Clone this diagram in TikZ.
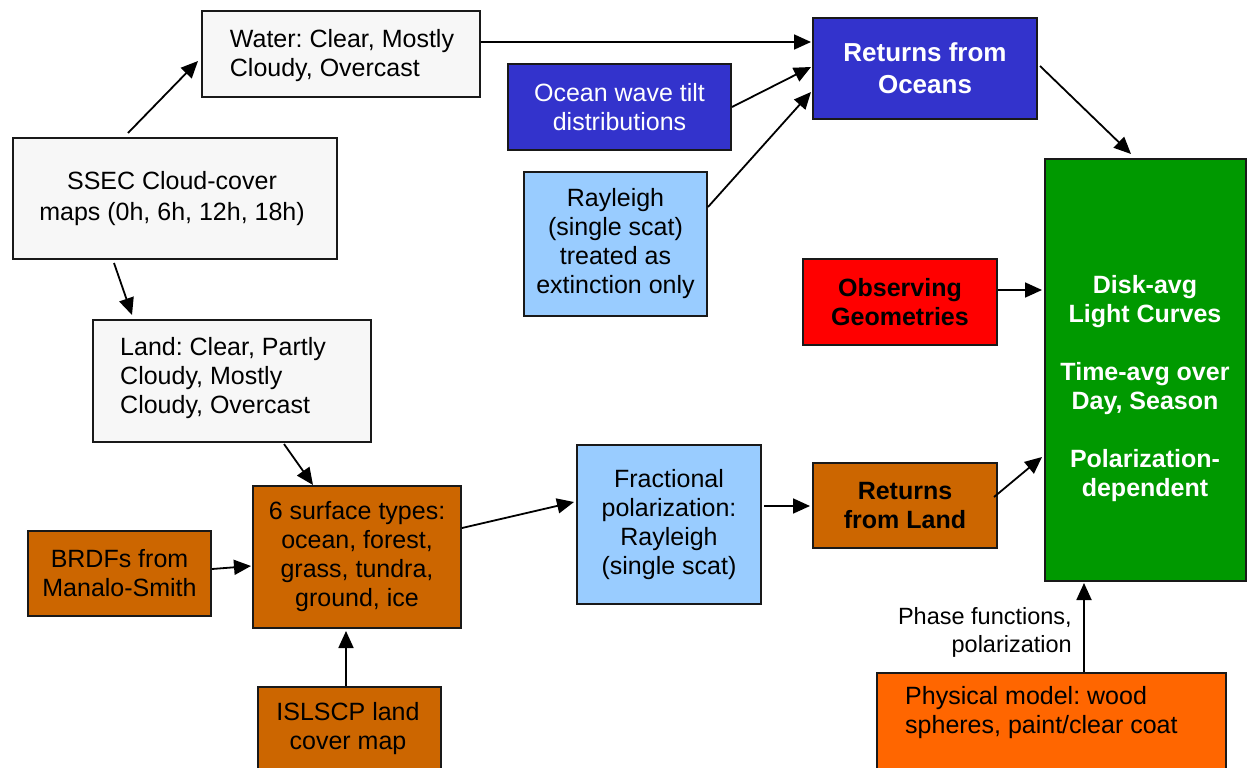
\documentclass[tikz,border=0pt]{standalone}
\usepackage{fontspec}
\setmainfont{Liberation Sans}
\usetikzlibrary{arrows.meta}
\definecolor{boxgray}{HTML}{F7F7F7}
\definecolor{dblue}{HTML}{3333CC}
\definecolor{lblue}{HTML}{99CCFF}
\definecolor{bred}{HTML}{FF0000}
\definecolor{bgreen}{HTML}{009900}
\definecolor{landbrown}{HTML}{CC6600}
\definecolor{orng}{HTML}{FF6600}
\frenchspacing
\begin{document}
\begin{tikzpicture}[x=1pt,y=-1pt,
  box/.style={draw=black!90, line width=2pt, inner sep=0pt, rectangle},
  reg/.style={font=\fontsize{25pt}{29pt}\selectfont},
  bld/.style={font=\fontsize{25pt}{29pt}\selectfont\bfseries},
  txt/.style={inner sep=0pt},
  arr/.style={line width=1.8pt, -{Triangle[length=17pt,width=15pt]}},
]
\useasboundingbox (0,0) rectangle (1248,768);
\fill[white] (0,0) rectangle (1248,768);
\clip (0,0) rectangle (1248,768);

% boxes
\node[box, fill=boxgray, minimum width=278pt, minimum height=86pt] (water) at (341,54) {};
\node[txt, reg, align=left] (watert) at (342,56) {Water: Clear, Mostly\\Cloudy, Overcast};
\node[box, fill=boxgray, minimum width=324pt, minimum height=121pt] (ssec) at (175,198.5) {};
\node[txt, reg, align=center, font=\fontsize{25pt}{31pt}\selectfont] (ssect) at (172,199) {SSEC Cloud-cover\\maps (0h, 6h, 12h, 18h)};
\node[box, fill=boxgray, minimum width=278pt, minimum height=122pt] (land) at (232,381) {};
\node[txt, reg, align=left, anchor=west] (landt) at (120,378) {Land: Clear, Partly\\Cloudy, Mostly\\Cloudy, Overcast};

\node[box, fill=dblue, text=white, minimum width=223pt, minimum height=86pt, align=center, reg] (wave) at (619.5,107) {Ocean wave tilt\\distributions};
\node[box, fill=dblue, text=white, minimum width=224pt, minimum height=101pt, align=center, font=\fontsize{26pt}{32pt}\selectfont\bfseries] (oceans) at (925,68.5) {Returns from\\Oceans};
\node[box, fill=lblue, minimum width=183pt, minimum height=144pt, align=center, reg] (rayl) at (615.5,244) {Rayleigh\\(single scat)\\treated as\\extinction only};
\node[box, fill=bred, minimum width=194pt, minimum height=86pt, align=center, bld] (obs) at (900,302) {Observing\\Geometries};

\node[box, fill=bgreen, minimum width=201pt, minimum height=422pt] (green) at (1145.5,370) {};
\node[txt, text=white, align=center, bld] (greent) at (1145,389) {Disk-avg\\Light Curves\\[29pt]Time-avg over\\Day, Season\\[29pt]Polarization-\\dependent};

\node[box, fill=landbrown, minimum width=208pt, minimum height=142pt, align=center, reg] (surf) at (357,557) {6 surface types:\\ocean, forest,\\grass, tundra,\\ground, ice};
\node[box, fill=landbrown, minimum width=183pt, minimum height=85pt, align=center, reg] (brdf) at (119.5,573.5) {BRDFs from\\Manalo-Smith};
\node[box, fill=lblue, minimum width=184pt, minimum height=159pt, align=center, reg] (frac) at (669,524.5) {Fractional\\polarization:\\Rayleigh\\(single scat)};
\node[box, fill=landbrown, minimum width=184pt, minimum height=85pt, align=center, bld] (lret) at (905,505.5) {Returns\\from Land};

\node[box, fill=landbrown, minimum width=183pt, minimum height=120pt] (isl) at (349.5,747) {};
\node[txt, reg, align=center] (islt) at (348,729) {ISLSCP land\\cover map};
\node[box, fill=orng, minimum width=349pt, minimum height=130pt] (phys) at (1051.5,738) {};
\node[txt, reg, align=left, anchor=west] (physt) at (905,713) {Physical model: wood\\spheres, paint/clear coat};

\node[txt, align=right, anchor=east, font=\fontsize{23.5pt}{28pt}\selectfont] (phase) at (1072,632) {Phase functions,\\polarization};

% connectors
\draw[arr] ([shift={(116,-4)}]ssec.north west) -- ([shift={(-3,51)}]water.north west);
\draw[arr] ([shift={(102,3)}]ssec.south west) -- ([shift={(40,-4)}]land.north west);
\draw[arr] ([shift={(0,32)}]water.north east) -- ([shift={(-1,25)}]oceans.north west);
\draw[arr] (wave.east) -- ([shift={(-1,50)}]oceans.north west);
\draw[arr] ([shift={(0,36)}]rayl.north east) -- ([shift={(-1,75)}]oceans.north west);
\draw[arr] ([shift={(2,49)}]oceans.north east) -- ([shift={(87,-4)}]green.north west);
\draw[arr] ([shift={(0,32)}]obs.north east) -- ([shift={(-2,132)}]green.north west);
\draw[arr] ([shift={(-4,35)}]lret.north east) -- ([shift={(-2,299)}]green.north west);
\draw[arr] ([shift={(2,62)}]frac.north east) -- ([shift={(-2,44)}]lret.north west);
\draw[arr] ([shift={(0,43)}]surf.north east) -- ([shift={(-2,58)}]frac.north west);
\draw[arr] ([shift={(192,1)}]land.south west) -- ([shift={(61,0)}]surf.north west);
\draw[arr] ([shift={(0,39)}]brdf.north east) -- ([shift={(-1,81)}]surf.north west);
\draw[arr] ([shift={(89,0)}]isl.north west) -- ([shift={(94,2)}]surf.south west);
\draw[arr] ([shift={(208,0)}]phys.north west) -- ([shift={(40,1)}]green.south west);
\end{tikzpicture}
\end{document}
